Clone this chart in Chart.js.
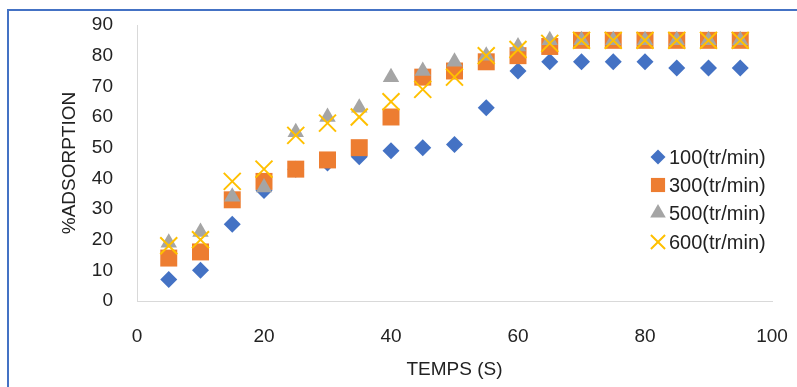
<!DOCTYPE html>
<html>
<head>
<meta charset="utf-8">
<script src="https://cdn.jsdelivr.net/npm/chart.js@4/dist/chart.umd.min.js"></script>
<style>
  html, body { margin: 0; padding: 0; background: #fff; overflow: hidden; }
  #frame {
    position: absolute; left: 7px; top: 9px; width: 900px; height: 500px;
    border-left: 2px solid #4472C4; border-top: 2px solid #4472C4;
  }
  #adsorption { position: absolute; left: 0; top: 0; }
</style>
</head>
<body>
<div id="frame"></div>
<canvas id="adsorption" width="797" height="387"></canvas>
<script>
// temps (s) et %adsorption
const temps = [5, 10, 15, 20, 25, 30, 35, 40, 45, 50, 55, 60, 65, 70, 75, 80, 85, 90, 95];
const v100 = [7, 10, 25, 36, 43, 45, 47, 49, 50, 51, 63, 75, 78, 78, 78, 78, 76, 76, 76];
const v300 = [14, 16, 33, 39, 43, 46, 50, 60, 73, 75, 78, 80, 83, 85, 85, 85, 85, 85, 85];
const v500 = [19, 22.5, 34, 37, 55, 60, 63, 73, 75, 78, 80, 83, 85, 85, 85, 85, 85, 85, 85];
const v600 = [18, 20, 39, 43, 54, 58, 60, 65, 69, 73, 80, 82, 84, 85, 85, 85, 85, 85, 85];
const labels = ["100(tr/min)", "300(tr/min)", "500(tr/min)", "600(tr/min)"];
const xTicks = [0, 20, 40, 60, 80, 100];
const yTicks = [0, 10, 20, 30, 40, 50, 60, 70, 80, 90];

const FONT = "'Liberation Sans', Arial, sans-serif";
const toPoints = (vals) => vals.map((v, i) => ({ x: temps[i], y: v }));

const styles = [
  { color: "#4472C4", pointStyle: "rectRot", radius: 8.5, legendRadius: 7.5 },
  { color: "#ED7D31", pointStyle: "rect", radius: 12, legendRadius: 10 },
  { color: "#A5A5A5", pointStyle: "triangle", radius: 9.5, legendRadius: 9 },
  { color: "#FFC000", pointStyle: "crossRot", radius: 12, legendRadius: 10 },
];
const series = [v100, v300, v500, v600];

const datasets = series.map((vals, i) => ({
  label: labels[i],
  data: toPoints(vals),
  pointStyle: styles[i].pointStyle,
  pointRadius: styles[i].radius,
  pointHoverRadius: styles[i].radius,
  backgroundColor: styles[i].color,
  borderColor: styles[i].color,
  pointBorderWidth: i === 3 ? 2 : 0,
  order: 4 - i,
}));

// legende dessinee dans la zone du graphique (comme Excel)
const legendPlugin = {
  id: "insideLegend",
  afterDatasetsDraw(chart) {
    const ctx = chart.ctx;
    const rows = [157, 185, 213, 242];
    ctx.save();
    labels.forEach((txt, i) => {
      const s = styles[i];
      ctx.fillStyle = s.color;
      ctx.strokeStyle = s.color;
      ctx.lineWidth = 2;
      Chart.helpers.drawPoint(ctx, {
        pointStyle: s.pointStyle,
        radius: s.legendRadius,
        rotation: 0,
        borderWidth: i === 3 ? 2 : 0,
      }, 658, rows[i]);
      ctx.fillStyle = "#222";
      ctx.font = "20px " + FONT;
      ctx.textBaseline = "middle";
      ctx.textAlign = "left";
      ctx.fillText(txt, 669, rows[i] + 1);
    });
    ctx.restore();
  },
};

new Chart(document.getElementById("adsorption"), {
  type: "scatter",
  data: { datasets },
  plugins: [legendPlugin],
  options: {
    responsive: false,
    devicePixelRatio: 1,
    animation: false,
    layout: { padding: { left: 58, right: 25, top: 25, bottom: 4 } },
    plugins: { legend: { display: false }, tooltip: { enabled: false } },
    scales: {
      x: {
        type: "linear",
        min: 0,
        max: 100,
        afterBuildTicks: (scale) => { scale.ticks = xTicks.map((v) => ({ value: v })); },
        afterFit: (scale) => {
          scale.height = 82;
          scale.paddingLeft = 0;
          scale.paddingRight = 0;
        },
        grid: { display: false },
        border: { display: true, color: "#d9d9d9", width: 1 },
        ticks: { color: "#222", font: { family: FONT, size: 19 }, padding: 16, maxRotation: 0 },
        title: {
          display: true, text: "TEMPS (S)", color: "#222",
          font: { family: FONT, size: 19 }, padding: 2,
        },
      },
      y: {
        type: "linear",
        min: 0,
        max: 90,
        afterBuildTicks: (scale) => { scale.ticks = yTicks.map((v) => ({ value: v })); },
        afterFit: (scale) => {
          scale.width = 79;
          scale.paddingTop = 0;
          scale.paddingBottom = 0;
        },
        grid: { display: false },
        border: { display: true, color: "#d9d9d9", width: 1 },
        ticks: { color: "#222", font: { family: FONT, size: 19 }, padding: 16 },
        title: {
          display: true, text: "%ADSORPTION", color: "#222",
          font: { family: FONT, size: 19 }, padding: 0,
        },
      },
    },
  },
});
</script>
</body>
</html>
